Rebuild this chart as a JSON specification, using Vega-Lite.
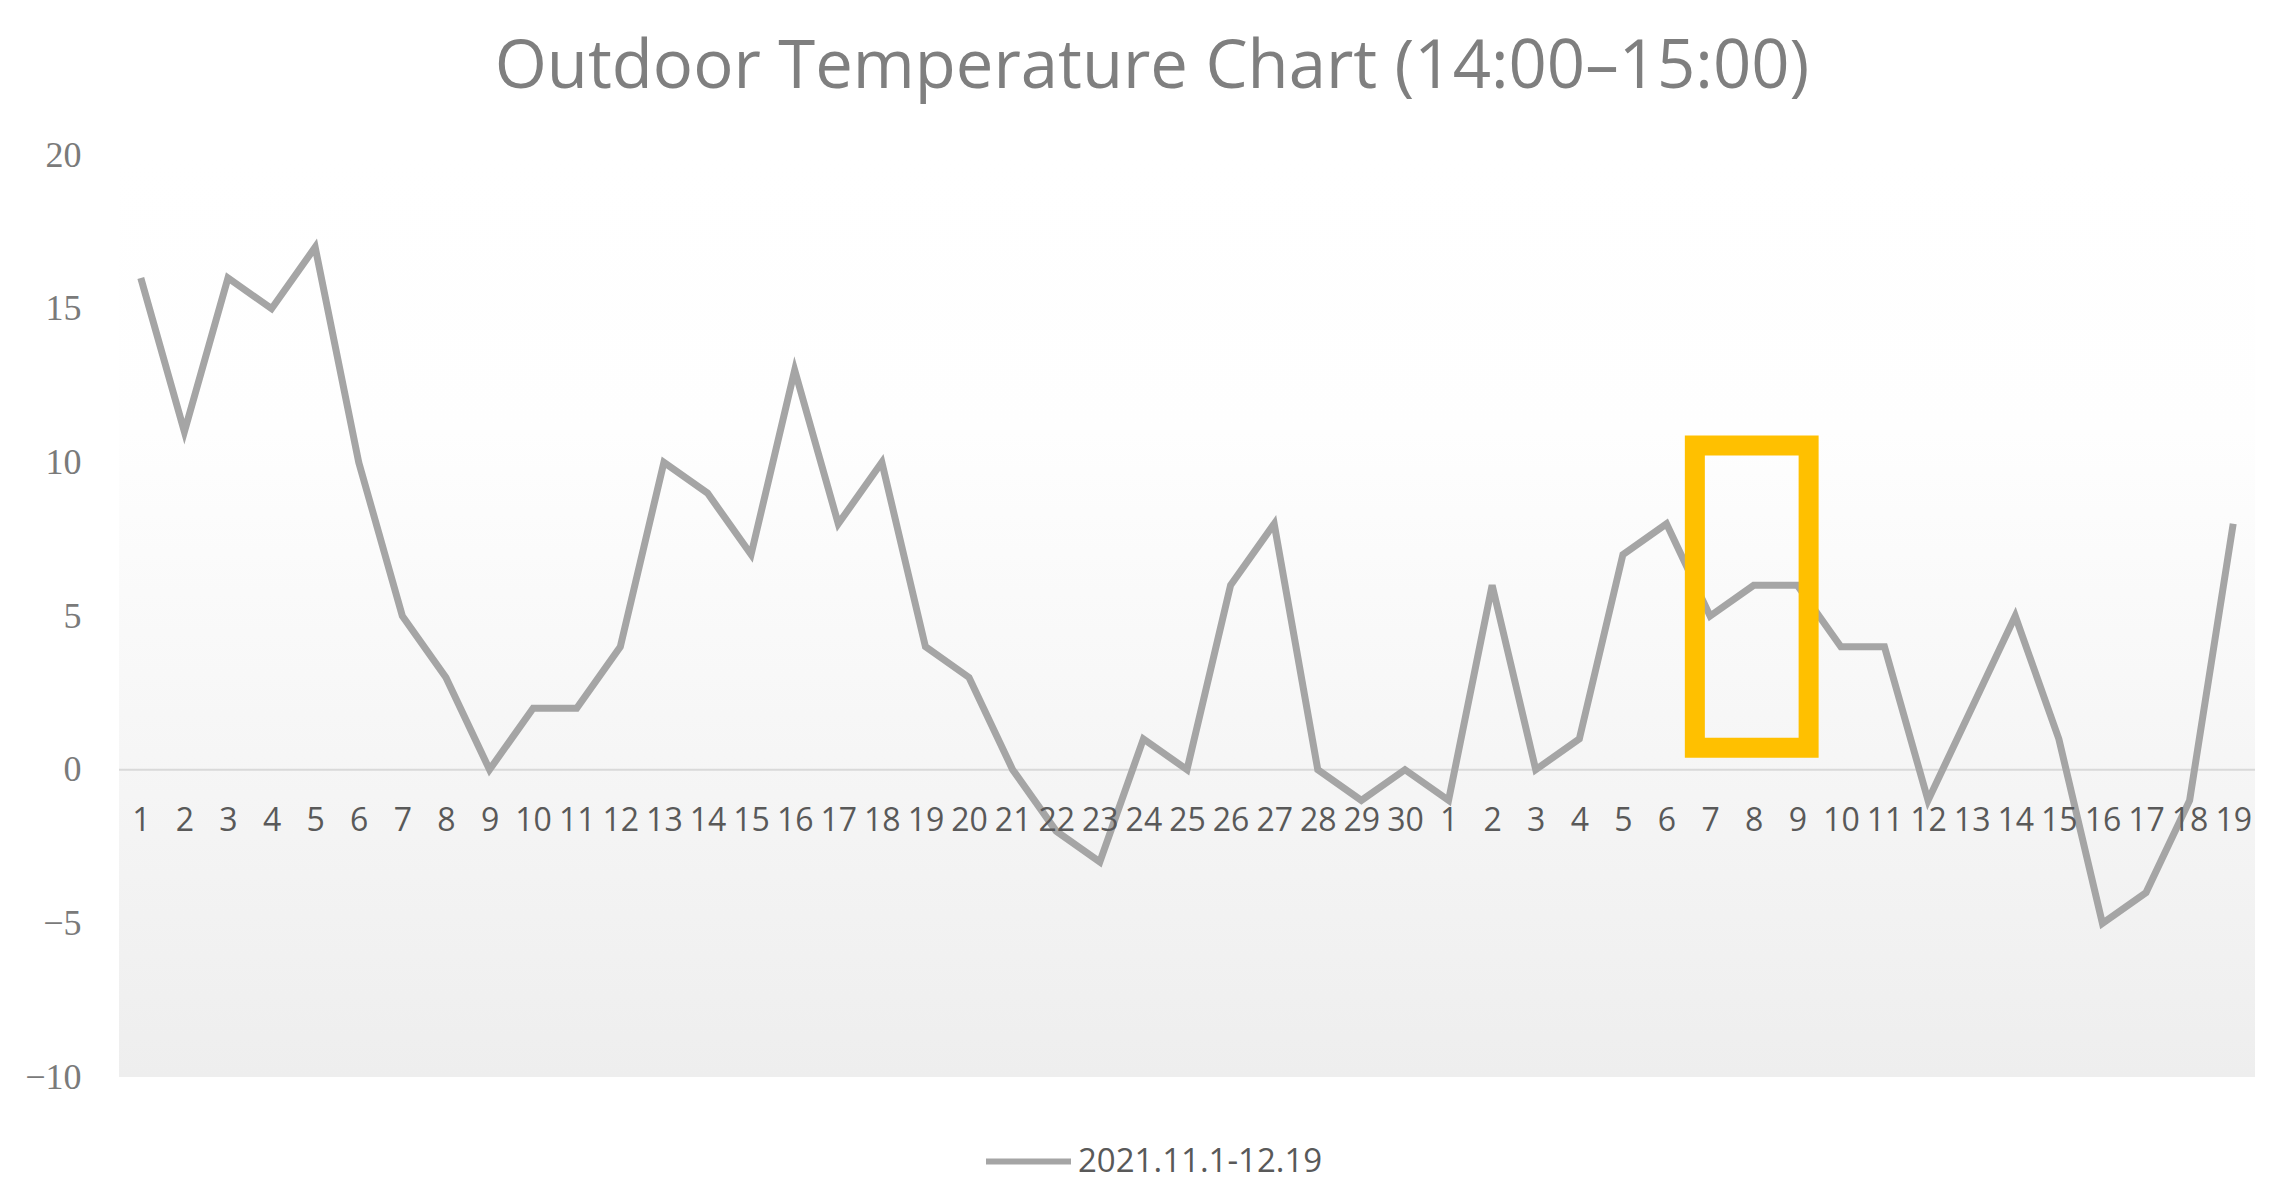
{
  "$schema": "https://vega.github.io/schema/vega-lite/v6.json",
  "width": 2136,
  "height": 922,
  "autosize": "none",
  "padding": {"left": 119, "top": 155, "right": 23, "bottom": 116},
  "background": "white",
  "config": {"view": {"stroke": null}},
  "title": {
    "text": "Outdoor Temperature Chart (14:00–15:00)",
    "font": "Open Sans",
    "fontSize": 67,
    "fontWeight": "normal",
    "color": "#7f7f7f",
    "anchor": "middle",
    "baseline": "alphabetic",
    "offset": -18,
    "dx": -35
  },
  "datasets": {
    "temps": [
      {"idx": 1, "month": 11, "day": 1, "temp": 16},
      {"idx": 2, "month": 11, "day": 2, "temp": 11},
      {"idx": 3, "month": 11, "day": 3, "temp": 16},
      {"idx": 4, "month": 11, "day": 4, "temp": 15},
      {"idx": 5, "month": 11, "day": 5, "temp": 17},
      {"idx": 6, "month": 11, "day": 6, "temp": 10},
      {"idx": 7, "month": 11, "day": 7, "temp": 5},
      {"idx": 8, "month": 11, "day": 8, "temp": 3},
      {"idx": 9, "month": 11, "day": 9, "temp": 0},
      {"idx": 10, "month": 11, "day": 10, "temp": 2},
      {"idx": 11, "month": 11, "day": 11, "temp": 2},
      {"idx": 12, "month": 11, "day": 12, "temp": 4},
      {"idx": 13, "month": 11, "day": 13, "temp": 10},
      {"idx": 14, "month": 11, "day": 14, "temp": 9},
      {"idx": 15, "month": 11, "day": 15, "temp": 7},
      {"idx": 16, "month": 11, "day": 16, "temp": 13},
      {"idx": 17, "month": 11, "day": 17, "temp": 8},
      {"idx": 18, "month": 11, "day": 18, "temp": 10},
      {"idx": 19, "month": 11, "day": 19, "temp": 4},
      {"idx": 20, "month": 11, "day": 20, "temp": 3},
      {"idx": 21, "month": 11, "day": 21, "temp": 0},
      {"idx": 22, "month": 11, "day": 22, "temp": -2},
      {"idx": 23, "month": 11, "day": 23, "temp": -3},
      {"idx": 24, "month": 11, "day": 24, "temp": 1},
      {"idx": 25, "month": 11, "day": 25, "temp": 0},
      {"idx": 26, "month": 11, "day": 26, "temp": 6},
      {"idx": 27, "month": 11, "day": 27, "temp": 8},
      {"idx": 28, "month": 11, "day": 28, "temp": 0},
      {"idx": 29, "month": 11, "day": 29, "temp": -1},
      {"idx": 30, "month": 11, "day": 30, "temp": 0},
      {"idx": 31, "month": 12, "day": 1, "temp": -1},
      {"idx": 32, "month": 12, "day": 2, "temp": 6},
      {"idx": 33, "month": 12, "day": 3, "temp": 0},
      {"idx": 34, "month": 12, "day": 4, "temp": 1},
      {"idx": 35, "month": 12, "day": 5, "temp": 7},
      {"idx": 36, "month": 12, "day": 6, "temp": 8},
      {"idx": 37, "month": 12, "day": 7, "temp": 5},
      {"idx": 38, "month": 12, "day": 8, "temp": 6},
      {"idx": 39, "month": 12, "day": 9, "temp": 6},
      {"idx": 40, "month": 12, "day": 10, "temp": 4},
      {"idx": 41, "month": 12, "day": 11, "temp": 4},
      {"idx": 42, "month": 12, "day": 12, "temp": -1},
      {"idx": 43, "month": 12, "day": 13, "temp": 2},
      {"idx": 44, "month": 12, "day": 14, "temp": 5},
      {"idx": 45, "month": 12, "day": 15, "temp": 1},
      {"idx": 46, "month": 12, "day": 16, "temp": -5},
      {"idx": 47, "month": 12, "day": 17, "temp": -4},
      {"idx": 48, "month": 12, "day": 18, "temp": -1},
      {"idx": 49, "month": 12, "day": 19, "temp": 8}
    ],
    "highlight": [
      {"start": 36.65, "end": 39.26, "low": 0.71, "high": 10.55}
    ]
  },
  "data": {"name": "temps"},
  "layer": [
    {
      "data": {"values": [{}]},
      "mark": {
        "type": "rect",
        "color": {
          "gradient": "linear",
          "x1": 0, "y1": 0, "x2": 0, "y2": 1,
          "stops": [
            {"offset": 0, "color": "#ffffff"},
            {"offset": 0.3, "color": "#fefefe"},
            {"offset": 1, "color": "#eeeeee"}
          ]
        }
      },
      "encoding": {
        "y": {"datum": 20, "type": "quantitative"},
        "y2": {"datum": -10}
      }
    },
    {
      "data": {"values": [{}]},
      "mark": {"type": "rule", "color": "#d9d9d9", "strokeWidth": 2},
      "encoding": {
        "y": {"datum": 0, "type": "quantitative"}
      }
    },
    {
      "mark": {"type": "line", "strokeWidth": 7, "strokeJoin": "miter", "strokeCap": "butt"},
      "encoding": {
        "x": {
          "field": "idx",
          "type": "quantitative",
          "scale": {"domain": [0.5, 49.5], "nice": false, "zero": false},
          "axis": {
            "values": [1,2,3,4,5,6,7,8,9,10,11,12,13,14,15,16,17,18,19,20,21,22,23,24,25,26,27,28,29,30,31,32,33,34,35,36,37,38,39,40,41,42,43,44,45,46,47,48,49],
            "labelExpr": "datum.value > 30 ? '' + (datum.value - 30) : '' + datum.value",
            "domain": false,
            "ticks": false,
            "grid": false,
            "offset": -307,
            "zindex": 1,
            "labelPadding": 35,
            "labelFont": "Open Sans",
            "labelFontSize": 32,
            "labelColor": "#595959",
            "labelOverlap": false,
            "labelFlush": false,
            "labelBound": false,
            "title": null
          }
        },
        "y": {
          "field": "temp",
          "type": "quantitative",
          "scale": {"domain": [-10, 20], "nice": false, "zero": false},
          "axis": {
            "values": [-10, -5, 0, 5, 10, 15, 20],
            "domain": false,
            "ticks": false,
            "grid": false,
            "labelPadding": 38,
            "labelFont": "Liberation Serif",
            "labelFontSize": 36,
            "labelColor": "#7a7a7a",
            "title": null
          }
        },
        "color": {
          "datum": "2021.11.1-12.19",
          "type": "nominal",
          "scale": {"range": ["#a5a5a5"]},
          "legend": {
            "title": null,
            "orient": "none",
            "legendX": 864,
            "legendY": 961,
            "symbolType": "stroke",
            "symbolSize": 7225,
            "symbolStrokeWidth": 6,
            "labelFont": "Open Sans",
            "labelFontSize": 33,
            "labelColor": "#595959",
            "labelOffset": 4,
            "labelLimit": 600
          }
        }
      }
    },
    {
      "data": {"name": "highlight"},
      "mark": {"type": "rect", "filled": false, "color": "#FFC000", "strokeWidth": 20},
      "encoding": {
        "x": {"field": "start", "type": "quantitative"},
        "x2": {"field": "end"},
        "y": {"field": "high", "type": "quantitative"},
        "y2": {"field": "low"}
      }
    }
  ]
}
